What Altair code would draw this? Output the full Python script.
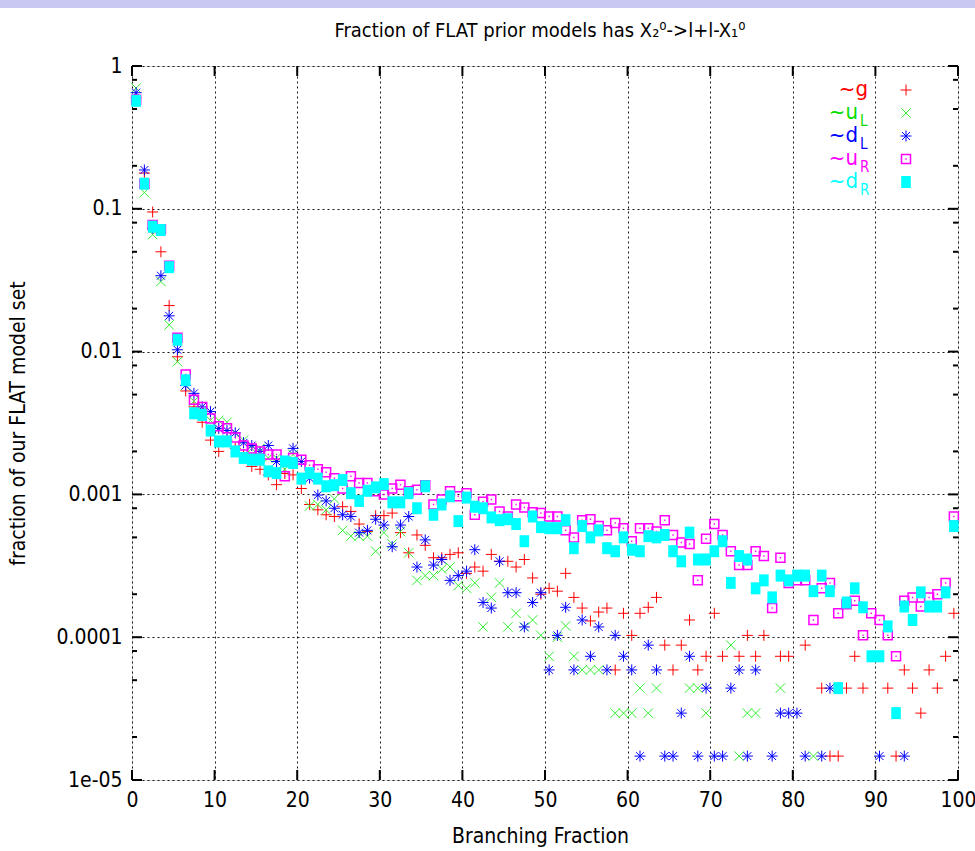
import altair as alt
import pandas as pd

FONT = "Liberation Sans Narrow, DejaVu Sans Condensed, Liberation Sans, Arial, sans-serif"

# bin centres of the branching-fraction histogram (1 % wide bins)
bin_centre = [i + 0.5 for i in range(100)]

# fraction of models per bin, one list per decaying sparticle (None = empty bin)
gluino = [
    0.60, 0.178, 0.095, 0.050, 0.021, 0.0092, 0.0053, 0.0041, 0.0032, 0.0024,
    0.0020, 0.0024, 0.0021, 0.0019, 0.00157, 0.0015, 0.00137, 0.00117, 0.0014, 0.00137,
    0.0011, 0.00085, 0.00078, 0.00072, 0.0007, 0.00082, 0.00076, 0.00062, 0.00055, 0.00071,
    0.00071, 0.00074, 0.00054, 0.00039, 0.00052, 0.00044, 0.00036, 0.00036, 0.00038, 0.00039,
    0.00028, 0.00031, 0.00029, 0.00038, 0.00034, 0.00034, 0.00031, 0.00035, 0.00026, 0.00020,
    0.00022, 0.00021, 0.00028, 0.00019, 0.00016, 0.00013, 0.00015, 0.00016, 5.9e-5, 0.000147,
    0.000103, 0.000147, 0.000162, 0.00019, 8.8e-5, 5.9e-5, 8.8e-5, 0.000132, 5.9e-5, 7.35e-5,
    0.000147, 7.35e-5, None, 7.35e-5, 0.000103, 7.35e-5, 0.000103, None, 7.35e-5, 7.35e-5,
    None, 8.8e-5, None, 4.4e-5, 1.47e-5, 1.47e-5, 4.4e-5, 7.35e-5, 4.4e-5, None,
    None, 4.4e-5, 1.47e-5, 5.9e-5, 4.4e-5, 2.94e-5, 5.9e-5, 4.4e-5, 7.35e-5, 0.000147,
]
squark_uL = [
    0.70, 0.13, 0.066, 0.031, 0.0154, 0.0085, 0.0058, 0.0045, 0.0038, 0.0033,
    0.0033, 0.0032, 0.0027, 0.0024, 0.0021, 0.0021, 0.0018, 0.0018, 0.0015, 0.0019,
    0.0013, 0.00083, 0.00085, 0.00078, 0.00093, 0.00056, 0.00051, 0.00051, 0.00051, 0.00040,
    0.00054, 0.00045, 0.00055, 0.00039, 0.00025, 0.00027, 0.00027, 0.00030, 0.00031, 0.00023,
    0.00022, 0.00024, 0.000118, 0.00019, 0.00024, 0.000118, 0.000147, 0.000118, 0.000132, 0.000103,
    7.35e-5, 0.0001, 0.00012, 7.35e-5, 5.9e-5, 5.9e-5, 5.9e-5, None, 2.94e-5, 2.94e-5,
    2.94e-5, 4.4e-5, 2.94e-5, 4.4e-5, None, None, None, 4.4e-5, 4.4e-5, 2.94e-5,
    None, None, 8.8e-5, 1.47e-5, 2.94e-5, 2.94e-5, None, None, 4.4e-5, None,
    None, None, 1.47e-5, None, None, None, None, None, None, None,
    None, None, None, None, None, None, None, None, None, None,
]
squark_dL = [
    0.65, 0.187, 0.073, 0.034, 0.0178, 0.0103, 0.0058, 0.0051, 0.0041, 0.0038,
    0.0029, 0.0028, 0.0027, 0.0023, 0.0022, 0.0020, 0.0022, 0.0017, 0.0017, 0.0021,
    0.0017, 0.0013, 0.00099, 0.0009, 0.0008, 0.00072, 0.0007, 0.00054, 0.00056, 0.00067,
    0.00061, 0.00043, 0.00061, 0.0007, 0.00031, 0.00048, 0.00032, 0.00035, 0.00025, 0.00027,
    0.00029, 0.00041, 0.000175, 0.00016, 0.00034, 0.000205, 0.000205, 0.000118, 0.000175, 0.000205,
    5.9e-5, 0.000103, 0.000162, 5.9e-5, 0.000132, 7.35e-5, 0.000118, 5.9e-5, 0.000103, 7.35e-5,
    5.9e-5, 1.47e-5, 8.8e-5, 5.9e-5, 1.47e-5, 1.47e-5, 2.94e-5, 7.35e-5, 1.47e-5, 4.4e-5,
    1.47e-5, 1.47e-5, 4.4e-5, 5.9e-5, 1.47e-5, 5.9e-5, None, 1.47e-5, 2.94e-5, 2.94e-5,
    2.94e-5, 1.47e-5, None, 1.47e-5, 4.4e-5, None, None, None, None, None,
    1.47e-5, None, None, 1.47e-5, None, None, None, None, None, None,
]
squark_uR = [
    0.58, 0.15, 0.077, 0.072, 0.040, 0.0125, 0.0069, 0.0046, 0.0041, 0.0034,
    0.0030, 0.0029, 0.0025, 0.0022, 0.0021, 0.0020, 0.0019, 0.0019, 0.00134, 0.0018,
    0.00175, 0.0016, 0.0015, 0.00143, 0.0013, 0.0011, 0.00134, 0.0012, 0.0012, 0.00105,
    0.0010, 0.0011, 0.00117, 0.00105, 0.00108, 0.00116, 0.00085, 0.00092, 0.00105, 0.00097,
    0.00102, 0.00072, 0.00089, 0.00092, 0.00076, 0.0007, 0.00085, 0.00081, 0.00075, 0.00074,
    0.0007, 0.0007, 0.00056, 0.0005, 0.00066, 0.00067, 0.0006, 0.00056, 0.00063, 0.00058,
    0.00047, 0.00058, 0.00058, 0.00055, 0.00066, 0.00052, 0.00046, 0.00045, 0.00025, 0.00049,
    0.00062, 0.00052, 0.0004, 0.00032, 0.00032, 0.0004, 0.00037, 0.00016, 0.00036, 0.00024,
    0.00025, 0.00025, 0.000132, 0.00022, 0.00024, 0.000147, 0.00017, 0.00018, 0.000103, 0.000147,
    0.000132, 0.000103, 7.35e-5, 0.00018, 0.00019, 0.000164, 0.00019, 0.0002, 0.00024, 0.0007,
]
squark_dR = [
    0.57, 0.15, 0.075, 0.071, 0.039, 0.0121, 0.0063, 0.0037, 0.0036, 0.0028,
    0.00235, 0.00235, 0.0020, 0.0018, 0.00175, 0.00175, 0.00145, 0.00141, 0.0017, 0.00166,
    0.00129, 0.00141, 0.00129, 0.00114, 0.00116, 0.00126, 0.00102, 0.0009, 0.00106, 0.00112,
    0.00118, 0.00088, 0.00088, 0.00102, 0.0008, 0.00114, 0.00072, 0.00085, 0.00097, 0.00065,
    0.00095, 0.00082, 0.0008, 0.00069, 0.00066, 0.00067, 0.00062, 0.00047, 0.0007, 0.00059,
    0.00058, 0.00058, 0.00066, 0.00042, 0.0006, 0.0005, 0.00056, 0.00042, 0.0004, 0.0005,
    0.00041, 0.0004, 0.00051, 0.0005, 0.00052, 0.0004, 0.00034, 0.00054, 0.00035, 0.00035,
    0.0004, 0.00047, 0.00024, 0.00037, 0.00035, 0.00022, 0.00025, 0.00019, 0.00027, 0.00025,
    0.00027, 0.00027, 0.00021, 0.00027, 0.00021, 4.4e-5, 0.000175, 0.00022, 0.000162, 7.35e-5,
    7.35e-5, 0.000119, 2.94e-5, 0.000164, 0.000132, 0.000206, 0.000164, 0.000164, 0.000206, 0.0006,
]

x_ticks = [0, 10, 20, 30, 40, 50, 60, 70, 80, 90, 100]
y_decades = [1e-5, 1e-4, 1e-3, 1e-2, 1e-1, 1]
y_minor = [2e-5, 5e-5, 8e-5, 2e-4, 5e-4, 8e-4, 2e-3, 5e-3, 8e-3,
           2e-2, 5e-2, 8e-2, 0.2, 0.5, 0.8]

W, H = 826, 714

# marker outlines (unit square coordinates)
PLUS = "M-1,0L1,0M0,-1L0,1"
CROSS = "M-1,-1L1,1M-1,1L1,-1"
STAR = "M-1,0L1,0M0,-1L0,1M-0.72,-0.72L0.72,0.72M-0.72,0.72L0.72,-0.72"
OPEN_SQ = "M-1,-1L1,-1L1,1L-1,1ZM-0.15,0L0.15,0"
BLOCK = "M-0.8,-1L0.8,-1L0.8,1L-0.8,1Z"

# key, data, legend text, subscript, text colour, marker colour, shape, size, filled, stroke width
series = [
    ("g", gluino, "~g", "", "#ff0000", "#ff0000", PLUS, 121, False, 1.0),
    ("uL", squark_uL, "~u", "L", "#00dd00", "#33ee33", CROSS, 90, False, 1.0),
    ("dL", squark_dL, "~d", "L", "#0000ff", "#0000ff", STAR, 121, False, 1.0),
    ("uR", squark_uR, "~u", "R", "#ff00ff", "#ff00ff", OPEN_SQ, 81, False, 1.5),
    ("dR", squark_dR, "~d", "R", "#00ffff", "#00ffff", BLOCK, 144, True, 0.0),
]

rows = []
for key, vals, *_ in series:
    for xc, v in zip(bin_centre, vals):
        if v is not None:
            rows.append({"series": key, "x": xc, "value": v})
df = pd.DataFrame(rows)

x_scale = alt.Scale(domain=[0, 100], nice=False, zero=False)
y_scale = alt.Scale(type="log", domain=[1e-5, 1], nice=False)

x_axis = alt.Axis(
    values=x_ticks, grid=True, gridDash=[2, 3], gridColor="#000", gridWidth=1,
    gridOpacity=0.9, ticks=False, domain=False, labelFont=FONT, labelFontSize=21,
    labelColor="#000", labelPadding=9, labelFlush=False,
    title="Branching Fraction", titleFont=FONT, titleFontSize=21,
    titleFontWeight="normal", titleColor="#000", titleX=W / 2 - 5, titleY=56,
    titleAlign="center", titleBaseline="middle",
)
y_axis = alt.Axis(
    values=y_decades, labelExpr="datum.value < 0.00005 ? '1e-05' : toString(datum.value)",
    grid=True, gridDash=[2, 3], gridColor="#000", gridWidth=1, gridOpacity=0.9,
    ticks=False, domain=False, labelFont=FONT, labelFontSize=21, labelColor="#000",
    labelPadding=10, labelFlush=False,
    title="fraction of our FLAT model set", titleFont=FONT, titleFontSize=21,
    titleFontWeight="normal", titleColor="#000", titleX=-114, titleY=H / 2,
    titleAngle=-90, titleAlign="center", titleBaseline="middle",
)

layers = []

# thin band across the top of the page
band = alt.Chart(pd.DataFrame({"k": [0]})).mark_rect(color="#c8c8f2").encode(
    x=alt.value(-132), x2=alt.value(W + 17), y=alt.value(-66), y2=alt.value(-58)
)
layers.append(band)

for key, vals, lab, sub, tcol, mcol, shape, size, filled, sw in series:
    pts = alt.Chart(df).transform_filter(alt.datum.series == key).mark_point(
        shape=shape, size=size, filled=filled, color=mcol, opacity=1,
        strokeWidth=sw if sw else 0.01,
    ).encode(
        x=alt.X("x:Q", scale=x_scale, axis=x_axis),
        y=alt.Y("value:Q", scale=y_scale, axis=y_axis),
    )
    layers.append(pts)

# inward tick marks on all four sides
xt = pd.DataFrame({"x": x_ticks})
for y0, y1 in [(H, H - 10), (0, 10)]:
    layers.append(
        alt.Chart(xt).mark_rule(color="#000", strokeWidth=2).encode(
            x=alt.X("x:Q", scale=x_scale, axis=x_axis), y=alt.value(y0), y2=alt.value(y1)
        )
    )
for vals_, ln in [(y_decades, 10), (y_minor, 5)]:
    yt = pd.DataFrame({"value": vals_})
    for x0, x1 in [(0, ln), (W, W - ln)]:
        layers.append(
            alt.Chart(yt).mark_rule(color="#000", strokeWidth=2).encode(
                y=alt.Y("value:Q", scale=y_scale, axis=y_axis), x=alt.value(x0), x2=alt.value(x1)
            )
        )

# key in the upper right corner
one = pd.DataFrame({"k": [0]})
row_y = [24, 47, 70, 93, 116]
for (key, vals, lab, sub, tcol, mcol, shape, size, filled, sw), ry in zip(series, row_y):
    if sub:
        layers.append(
            alt.Chart(one).mark_text(text=lab, align="right", baseline="middle",
                                     font=FONT, fontSize=22, color=tcol).encode(
                x=alt.value(726), y=alt.value(ry - 1))
        )
        layers.append(
            alt.Chart(one).mark_text(text=sub, align="left", baseline="alphabetic",
                                     font=FONT, fontSize=15, color=tcol).encode(
                x=alt.value(728), y=alt.value(ry + 13))
        )
    else:
        layers.append(
            alt.Chart(one).mark_text(text=lab, align="right", baseline="middle",
                                     font=FONT, fontSize=22, color=tcol).encode(
                x=alt.value(736), y=alt.value(ry - 1))
        )
    layers.append(
        alt.Chart(one).mark_point(shape=shape, size=size, filled=filled, color=mcol,
                                  opacity=1, strokeWidth=sw if sw else 0.01).encode(
            x=alt.value(774), y=alt.value(ry))
    )

# chart heading
layers.append(
    alt.Chart(one).mark_text(
        text="Fraction of FLAT prior models has X\u2082\u2070->l+l-X\u2081\u2070",
        align="center", baseline="middle", font=FONT, fontSize=20, color="#000",
    ).encode(x=alt.value(W / 2 - 5), y=alt.value(-35))
)

chart = alt.layer(*layers).properties(
    width=W, height=H,
    padding={"left": 132, "top": 66, "right": 17, "bottom": 71},
    autosize=alt.AutoSizeParams(type="none"),
).configure_view(stroke="#000", strokeWidth=2).configure(background="white")

chart.save("out.html", embed_options={"renderer": "svg", "actions": False})
